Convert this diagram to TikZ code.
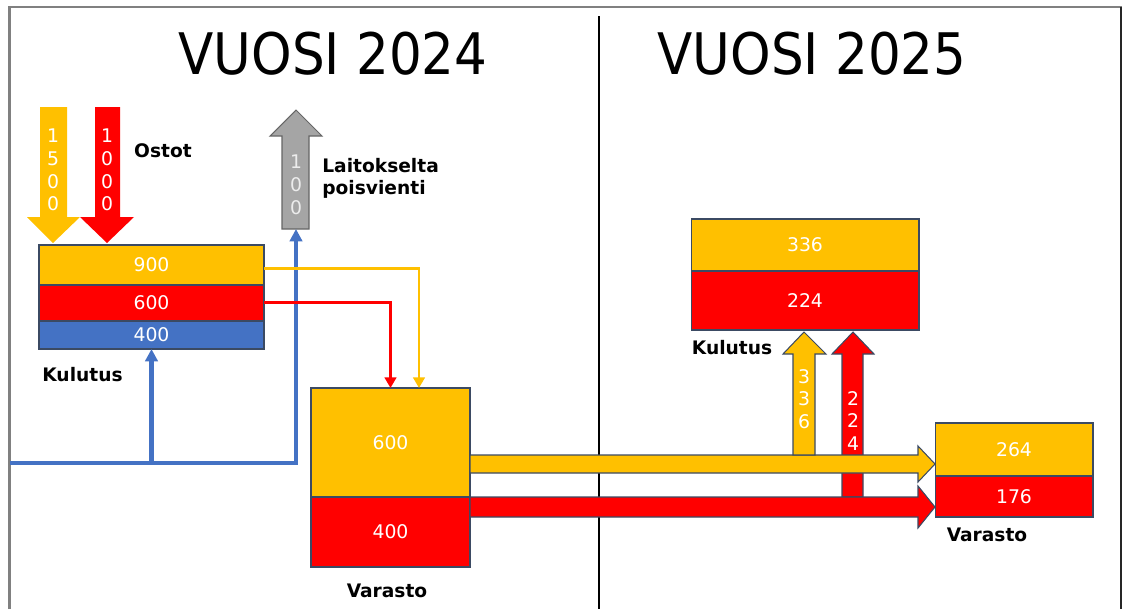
\documentclass[tikz,border=0pt]{standalone}
\usepackage{fontspec}
\setmainfont{DejaVu Sans}
\newfontfamily\otsikkofont[FakeStretch=0.9]{DejaVu Sans}
\usetikzlibrary{arrows.meta, calc, positioning}

\definecolor{keltainen}{HTML}{FFC000}
\definecolor{punainen}{HTML}{FF0000}
\definecolor{sininen}{HTML}{4472C4}
\definecolor{harmaa}{HTML}{A5A5A5}
\definecolor{reuna}{HTML}{3B4A63}

\tikzset{
  band/.style={draw=reuna, line width=0.6pt, inner sep=0pt, outer sep=0pt,
               text=white, font=\fontsize{10.7}{13}\selectfont},
  nimio/.style={font=\fontsize{10.6}{12.5}\selectfont\bfseries, inner sep=0pt},
  otsikko/.style={font=\otsikkofont\fontsize{32.6}{39}\selectfont, inner sep=0pt},
  numerot/.style={align=center, text=white, inner sep=0pt,
                  font=\fontsize{10.7}{13}\selectfont},
  bluelink/.style={draw=sininen, line width=2.3pt, -{Triangle[length=7pt,width=7pt]}},
  thinlink/.style={line width=1.7pt, -{Triangle[length=6pt,width=6.5pt]}},
  blockline/.style={draw=reuna, line width=0.6pt},
}

\begin{document}
\begin{tikzpicture}[x=0.02cm, y=-0.02cm]
\useasboundingbox (0,0) rectangle (1122,609);

% frame and divider
\draw[gray, line width=1.2pt] (9.5,609) -- (9.5,7) -- (1122,7);
\draw[black!85, line width=1.2pt] (1121,7) -- (1121,609);
\draw[black, line width=1.2pt] (599,16) -- (599,609);

\node[otsikko] (vuosi24) at (333,54) {VUOSI 2024};
\node[otsikko] (vuosi25) at (812,54) {VUOSI 2025};

% vuosi 2024
\fill[keltainen] (40,107) -- (67,107) -- (67,217) -- (80,217) -- (53,243) -- (27,217) -- (40,217) -- cycle;
\fill[punainen] (95,107) -- (120,107) -- (120,217) -- (134,217) -- (107,243) -- (80,217) -- (95,217) -- cycle;
\filldraw[fill=harmaa, draw=gray!80!black, line width=0.6pt] (282,229) -- (282,136) -- (270,136) -- (296,110) -- (322,136) -- (309,136) -- (309,229) -- cycle;
\coordinate (harmaajalka) at (296,229);

\node[numerot] (ostot1500) at (53,170) {1\\5\\0\\0};
\node[numerot] (ostot1000) at (107,170) {1\\0\\0\\0};
\node[numerot, text=white!85!gray] (poisvienti100) at (296,185) {1\\0\\0};
\node[nimio] (ostot) at (163,151) {Ostot};
\node[nimio, align=left, anchor=west] (laitos) at (322,178) {Laitokselta\\poisvienti};

\node[band, fill=keltainen, minimum width=4.5cm, minimum height=0.8cm] (k24y) at (151.5,265) {900};
\node[band, fill=punainen, minimum width=4.5cm, minimum height=0.72cm] (k24r) at (151.5,303) {600};
\node[band, fill=sininen, minimum width=4.5cm, minimum height=0.56cm] (k24b) at (151.5,335) {400};
\node[nimio] (kulutus24) at (82.5,375) {Kulutus};

\node[band, fill=keltainen, minimum width=3.18cm, minimum height=2.18cm] (v24y) at (390.5,442.5) {600};
\node[band, fill=punainen, minimum width=3.18cm, minimum height=1.4cm] (v24r) at (390.5,532) {400};
\node[nimio] (varasto24) at (387,591) {Varasto};

\coordinate (sinialku) at (10,463);
\draw[bluelink] (sinialku) -| (harmaajalka);
\draw[bluelink] (k24b.south |- sinialku) -- (k24b.south);

\draw[thinlink, keltainen] ($(k24y.east)+(0,3)$) -| ($(v24y.north)+(28.5,0)$);
\draw[thinlink, punainen] ($(k24r.east)+(0,-1)$) -| (v24y.north);

% vuosi 2025
\node[band, fill=keltainen, minimum width=4.56cm, minimum height=1.04cm] (k25y) at (805,245) {336};
\node[band, fill=punainen, minimum width=4.56cm, minimum height=1.18cm] (k25r) at (805,300.5) {224};
\node[nimio] (kulutus25) at (732,348) {Kulutus};

\node[band, fill=keltainen, minimum width=3.16cm, minimum height=1.06cm] (v25y) at (1014,449.5) {264};
\node[band, fill=punainen, minimum width=3.16cm, minimum height=0.82cm] (v25r) at (1014,496.5) {176};
\node[nimio] (varasto25) at (987,535) {Varasto};

\filldraw[fill=punainen, blockline] (842,497) -- (842,354) -- (832,354) -- (853,332) -- (874,354) -- (863,354) -- (863,497) -- cycle;
\filldraw[fill=keltainen, blockline] (470,455) -- (918,455) -- (918,446) -- (935,464) -- (918,482) -- (918,473) -- (470,473) -- cycle;
\filldraw[fill=punainen, blockline] (470,497) -- (918,497) -- (918,486) -- (935,507) -- (918,528) -- (918,517) -- (470,517) -- cycle;
\filldraw[fill=keltainen, blockline] (793,455) -- (793,354) -- (783,354) -- (804,332) -- (826,354) -- (815,354) -- (815,455) -- cycle;

\node[numerot] (kulutus336) at (804,399) {3\\3\\6};
\node[numerot] (kulutus224) at (853,421) {2\\2\\4};
\end{tikzpicture}
\end{document}
